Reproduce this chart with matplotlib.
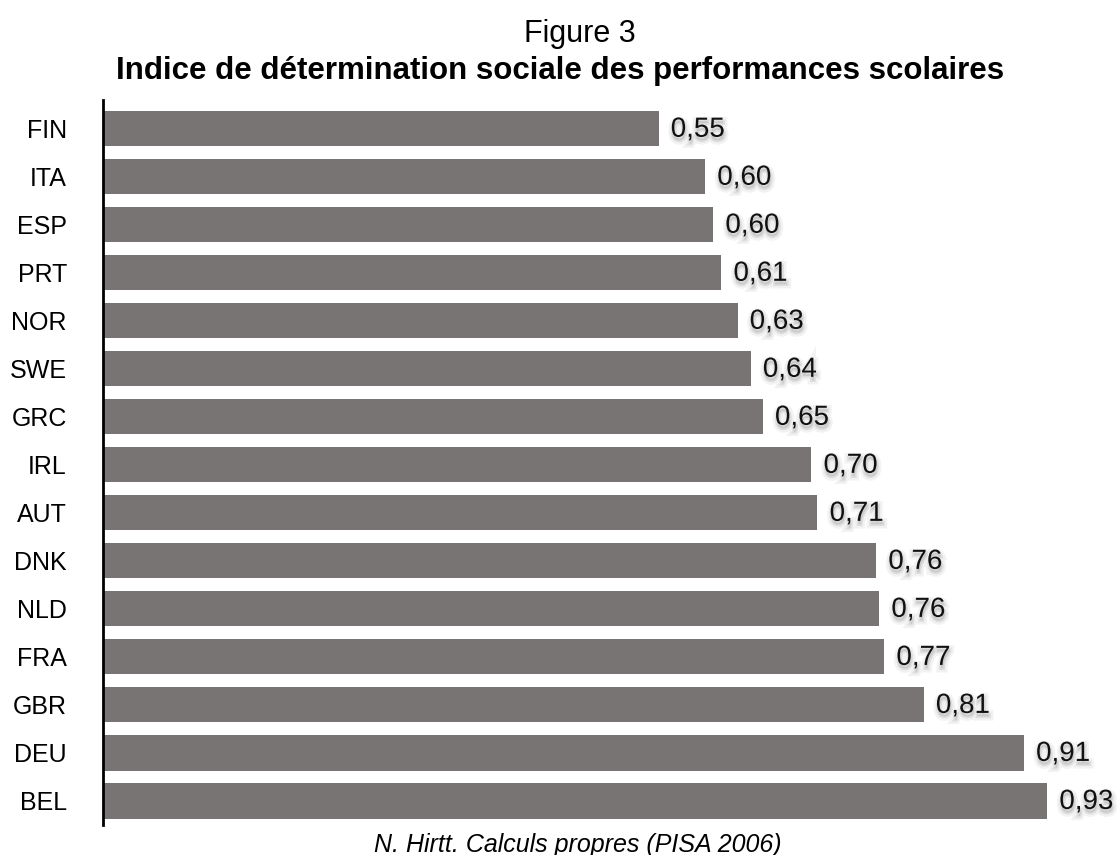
import matplotlib.pyplot as plt
import matplotlib.patheffects as pe

countries = ['FIN', 'ITA', 'ESP', 'PRT', 'NOR', 'SWE', 'GRC', 'IRL',
             'AUT', 'DNK', 'NLD', 'FRA', 'GBR', 'DEU', 'BEL']
values = [0.55, 0.60, 0.60, 0.61, 0.63, 0.64, 0.65, 0.70,
          0.71, 0.76, 0.76, 0.77, 0.81, 0.91, 0.93]
# bar ends (slightly more precise than the labels)
bar_ends = [0.549, 0.595, 0.603, 0.611, 0.627, 0.640, 0.652, 0.700,
            0.706, 0.764, 0.767, 0.772, 0.811, 0.910, 0.933]

plt.rcParams['font.family'] = ['Liberation Sans', 'DejaVu Sans']

fig = plt.figure(figsize=(11.19, 8.55), dpi=100)
ax = fig.add_axes([103 / 1119, 1 - 825 / 855, 1012 / 1119, 725 / 855])

ypos = list(range(len(countries)))
ax.barh(ypos, bar_ends, height=0.73, color='#787473', zorder=2)

# soft light-grey shadow under the value labels
shadow = [pe.PathPatchEffect(offset=(0.5, -2.5), facecolor='#bbbbbb', edgecolor='#bbbbbb',
                             linewidth=6, alpha=0.18),
          pe.PathPatchEffect(offset=(0.5, -2.5), facecolor='#a8a8a8', edgecolor='#a8a8a8',
                             linewidth=2.5, alpha=0.25),
          pe.Normal()]
for y, v, e in zip(ypos, values, bar_ends):
    txt = f'{v:.2f}'.replace('.', ',')
    ax.text(e + 0.012, y + 0.02, txt, va='center', ha='left', fontsize=20,
            color='#111111', path_effects=shadow)

ax.set_yticks(ypos)
ax.set_yticklabels(countries, fontsize=18)
ax.tick_params(axis='y', length=0, pad=26)
ax.set_xticks([])
ax.set_xlim(0, 1.0)
ax.set_ylim(14.5, -0.6)
for s in ['top', 'right', 'bottom']:
    ax.spines[s].set_visible(False)
ax.spines['left'].set_linewidth(2)

fig.text(580 / 1119, 1 - 34 / 855, 'Figure 3', ha='center', va='center', fontsize=22)
fig.text(560 / 1119, 1 - 71 / 855, 'Indice de détermination sociale des performances scolaires',
         ha='center', va='center', fontsize=22.5, fontweight='bold')
fig.text(578 / 1119, 1 - 845 / 855, 'N. Hirtt. Calculs propres (PISA 2006)',
         ha='center', va='center', fontsize=18, style='italic')

fig.savefig('out.png', dpi=100)
